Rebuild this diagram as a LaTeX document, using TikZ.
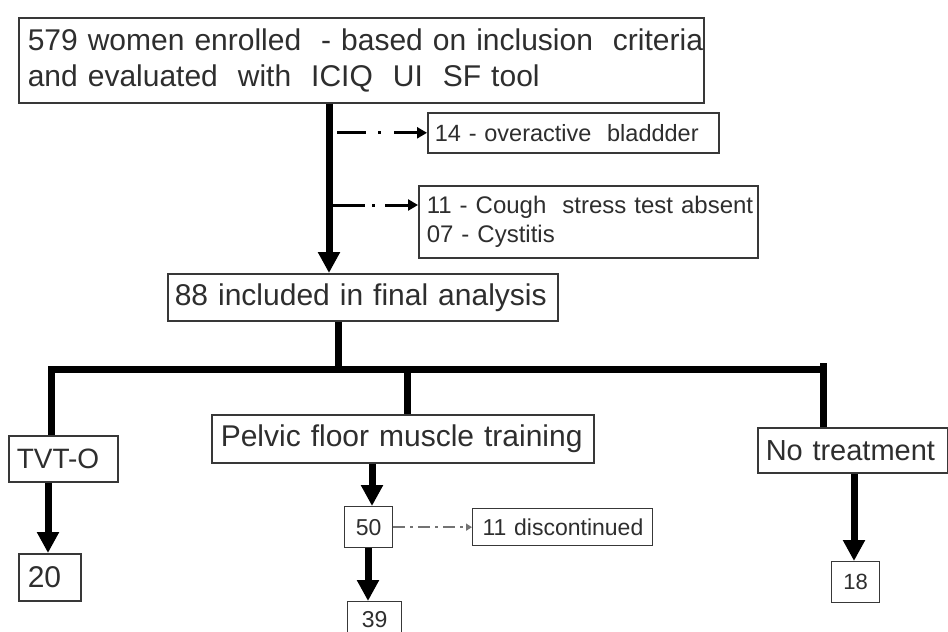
\documentclass[tikz,border=0pt]{standalone}
\usepackage{fontspec}
\setmainfont{Liberation Sans}
\usetikzlibrary{arrows.meta,calc}
\begin{document}
\begin{tikzpicture}[x=1pt,y=-1pt,
  box/.style={draw=black!78, line width=1.6pt, fill=white, anchor=north west,
    inner ysep=0pt, align=left, text=black!82},
  smallbox/.style={box, line width=1.3pt, align=center},
  thickline/.style={line width=7pt, draw=black},
  thickarrow/.style={thickline, -{Triangle[width=21pt,length=21pt]}},
  ddarrow/.style={line width=3pt, draw=black,
    -{Triangle[width=11pt,length=10pt]}},
  ddarrowthin/.style={line width=1.6pt, draw=black!55,
    dash pattern=on 12pt off 5pt on 3pt off 5pt,
    -{Triangle[width=7pt,length=6pt]}}
]
\useasboundingbox (0,0) rectangle (948,632);
\fill[white] (0,0) rectangle (948,632);

% nodes
\node[box, minimum height=85pt, text width=667pt, inner xsep=9pt,
  font=\fontsize{30}{36}\selectfont] (top) at (18,17)
  {\mbox{579 women enrolled\ \ - based on inclusion\ \ criteria}\\\mbox{and evaluated\ \ with\ \ ICIQ\ \ UI\ \ SF tool}};
\node[box, minimum height=40pt, text width=277pt, inner xsep=7pt,
  font=\fontsize{23.5}{28}\selectfont] (over) at (427,112)
  {\mbox{14\ - overactive\ \ bladdder}};
\node[box, minimum height=72pt, text width=323pt, inner xsep=8pt,
  font=\fontsize{24}{29}\selectfont] (cough) at (418,185)
  {\mbox{11\ - Cough\ \ stress test absent}\\\mbox{07\ - Cystitis}};
\node[box, minimum height=47pt, text width=376pt, inner xsep=7pt,
  font=\fontsize{30}{36}\selectfont] (incl) at (167,273)
  {\mbox{88 included\ in final\ analysis}};
\node[box, minimum height=46pt, text width=93pt, inner xsep=8pt,
  font=\fontsize{28}{34}\selectfont] (tvt) at (8,435) {\mbox{TVT-O}};
\node[box, minimum height=48pt, text width=364pt, inner xsep=9pt,
  font=\fontsize{30}{36}\selectfont] (pfmt) at (211,414)
  {\mbox{Pelvic floor\ muscle training}};
\node[box, minimum height=45pt, text width=174pt, inner xsep=8pt,
  font=\fontsize{29}{35}\selectfont] (notr) at (757,427) {\mbox{No treatment}};
\node[box, minimum height=47pt, text width=44pt, inner xsep=9pt,
  font=\fontsize{30}{36}\selectfont] (n20) at (18,553) {20};
\node[smallbox, minimum height=41pt, text width=32pt, inner xsep=8pt,
  font=\fontsize{23}{28}\selectfont] (n50) at (344,506) {50};
\node[box, line width=1.3pt, minimum height=37pt, text width=160pt, inner xsep=10pt,
  font=\fontsize{23}{28}\selectfont] (disc) at (472,508) {\mbox{11 discontinued}};
\node[smallbox, minimum height=36pt, text width=38pt, inner xsep=8pt,
  font=\fontsize{23}{28}\selectfont] (n39) at (347,601) {39};
\node[smallbox, minimum height=41pt, text width=28pt, inner xsep=10pt,
  font=\fontsize{22}{27}\selectfont] (n18) at (831,561) {18};

% helper coordinates
\coordinate (mx) at (329,0);
\coordinate (d1x) at (337,0);
\coordinate (d2) at (329,205);
\coordinate (ix) at (338,369);
\coordinate (bl) at (51,369);
\coordinate (br) at (823,369);
\coordinate (pfx) at (407,369);
\coordinate (tx) at (48,0);
\coordinate (px) at (372,0);
\coordinate (qx) at (368,0);
\coordinate (nx) at (854,0);

% connectors
\draw[thickarrow] (top.south -| mx) -- (incl.north -| mx);
\draw[ddarrow, dash pattern=on 29pt off 12pt on 3pt off 13pt on 300pt off 1pt]
  (over.west -| d1x) -- (over.west);
\draw[ddarrow, dash pattern=on 36pt off 7pt on 3pt off 10pt on 300pt off 1pt]
  (d2) -- (d2 -| cough.west);
\draw[thickline] (incl.south -| ix) -- (ix);
\draw[thickline, line cap=rect] (bl) -- (br);
\draw[thickline] (bl) -- (tvt.north -| bl);
\draw[thickline] (pfx) -- (pfmt.north -| pfx);
\draw[thickline] ($(br)+(0,-6)$) -- (notr.north -| br);
\draw[thickarrow] (tvt.south -| tx) -- (n20.north -| tx);
\draw[thickarrow] (pfmt.south -| px) -- (n50.north -| px);
\draw[ddarrowthin] (n50.east) -- (disc.west);
\draw[thickarrow] (n50.south -| qx) -- (n39.north -| qx);
\draw[thickarrow] (notr.south -| nx) -- (n18.north -| nx);
\end{tikzpicture}
\end{document}
